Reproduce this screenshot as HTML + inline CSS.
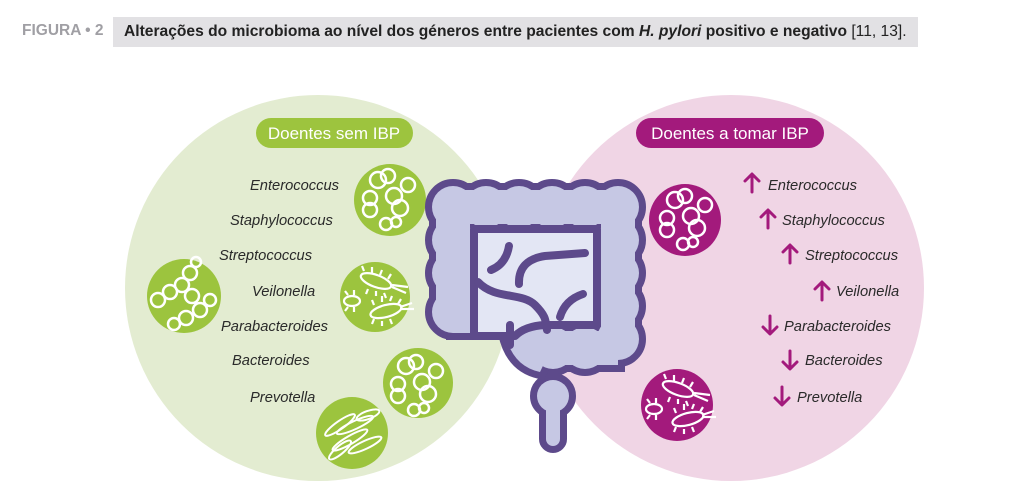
<!DOCTYPE html>
<html><head><meta charset="utf-8"><style>
body{margin:0;width:1032px;height:496px;background:#fff;overflow:hidden;position:relative;font-family:"Liberation Sans",sans-serif}
.fig{position:absolute;left:22px;top:22px;font-weight:bold;font-size:15.5px;color:#a09fa4;transform:scaleX(1);transform-origin:left;white-space:nowrap}
.cap{position:absolute;left:113px;top:17px;width:805px;height:30px;background:#e2e1e4}
.cap span.t{position:absolute;left:11px;top:6px;font-size:16px;font-weight:bold;color:#222;white-space:nowrap;transform:scaleX(.975);transform-origin:left}
svg{position:absolute;left:0;top:0}
</style></head><body>
<div class="fig">FIGURA • 2</div>
<div class="cap"><span class="t">Alterações do microbioma ao nível dos géneros entre pacientes com <i>H. pylori</i> positivo e negativo <span style="font-weight:normal">[11, 13].</span></span></div>
<svg width="1032" height="496" viewBox="0 0 1032 496">
<defs>
<g id="cocci" fill="none" stroke="#fff" stroke-width="2.5">
<circle cx="-12" cy="-20" r="8"/><circle cx="-2" cy="-24" r="7"/><circle cx="18" cy="-15" r="7"/><circle cx="4" cy="-4" r="8"/><circle cx="10" cy="8" r="8"/><circle cx="-20" cy="-2" r="7"/><circle cx="-20" cy="10" r="7"/><circle cx="-4" cy="24" r="6"/><circle cx="6" cy="22" r="5"/>
</g>
<g id="bac" fill="none" stroke="#fff" stroke-width="2.2">
<ellipse cx="-2" cy="-16" rx="16" ry="6" transform="rotate(20 -2 -16)"/>
<ellipse cx="8" cy="14" rx="16" ry="6" transform="rotate(-15 8 14)"/>
<ellipse cx="-26" cy="4" rx="8" ry="5"/>
<path d="M-14 -26 l-2 -5 M-6 -24 l0 -6 M2 -22 l2 -5 M10 -18 l3 -5 M-10 -8 l-2 5 M-2 -6 l0 5 M6 -4 l2 5 M14 -10 l14 6 M14 -12 l16 2 M-4 8 l-2 -5 M4 5 l0 -6 M12 4 l2 -5 M20 7 l3 -5 M-4 22 l-2 5 M4 24 l0 5 M12 22 l2 5 M22 10 l12 -4 M22 12 l14 0 M-30 -2 l-3 -4 M-24 -2 l0 -5 M-30 10 l-3 4 M-24 10 l0 5"/>
</g>
<g id="colon">
<circle cx="453" cy="207" r="21"/><circle cx="486" cy="207" r="21"/><circle cx="519" cy="207" r="21"/><circle cx="552" cy="207" r="21"/><circle cx="585" cy="207" r="21"/><circle cx="618" cy="207" r="21"/>
<circle cx="453" cy="240" r="21"/><circle cx="453" cy="273" r="21"/><circle cx="453" cy="312" r="21"/>
<circle cx="618" cy="240" r="21"/><circle cx="618" cy="273" r="21"/><circle cx="618" cy="306" r="21"/><circle cx="618" cy="339" r="21"/>
<circle cx="585" cy="348" r="21"/><circle cx="553" cy="348" r="21"/>
<circle cx="553" cy="396" r="16"/><rect x="546" y="396" width="14" height="50" rx="7"/>
<rect x="453" y="190" width="165" height="34"/><rect x="436" y="207" width="34" height="100"/><rect x="601" y="207" width="34" height="135"/><rect x="553" y="331" width="65" height="34"/>
<path d="M453 300 L453 333 L505 333 Q512 366 540 372 L560 330 L480 318 Z"/>
</g>
</defs>
<circle cx="318" cy="288" r="193" fill="#e3ecd1"/>
<circle cx="731" cy="288" r="193" fill="#f0d5e5"/>
<rect x="256" y="118" width="157" height="30" rx="15" fill="#9dc43e"/>
<text x="334" y="139" text-anchor="middle" font-size="17" fill="#fff">Doentes sem IBP</text>
<rect x="636" y="118" width="188" height="30" rx="15" fill="#a31a7c"/>
<text x="730" y="139" text-anchor="middle" font-size="17" fill="#fff">Doentes a tomar IBP</text>
<g font-style="italic" font-size="14.7" fill="#2a2a2a">
<text x="250" y="190">Enterococcus</text>
<text x="230" y="225">Staphylococcus</text>
<text x="219" y="260">Streptococcus</text>
<text x="252" y="296">Veilonella</text>
<text x="221" y="331">Parabacteroides</text>
<text x="232" y="365">Bacteroides</text>
<text x="250" y="402">Prevotella</text>
<text x="768" y="190">Enterococcus</text>
<text x="782" y="225">Staphylococcus</text>
<text x="805" y="260">Streptococcus</text>
<text x="836" y="296">Veilonella</text>
<text x="784" y="331">Parabacteroides</text>
<text x="805" y="365">Bacteroides</text>
<text x="797" y="402">Prevotella</text>
</g>
<g stroke="#a31a7c" stroke-width="3" fill="none" stroke-linecap="round" stroke-linejoin="round">
<path d="M752 192 v-17 M745 181 l7 -7 l7 7"/>
<path d="M768 228 v-17 M761 217 l7 -7 l7 7"/>
<path d="M790 263 v-17 M783 252 l7 -7 l7 7"/>
<path d="M822 300 v-17 M815 289 l7 -7 l7 7"/>
<path d="M770 316 v17 M763 327 l7 7 l7 -7"/>
<path d="M790 351 v17 M783 362 l7 7 l7 -7"/>
<path d="M782 387 v17 M775 398 l7 7 l7 -7"/>
</g>
<circle cx="390" cy="200" r="36" fill="#9cc43e"/><use href="#cocci" x="390" y="200"/>
<circle cx="184" cy="296" r="37" fill="#9cc43e"/>
<g fill="none" stroke="#fff" stroke-width="2.5"><circle cx="158" cy="300" r="7"/><circle cx="170" cy="292" r="7"/><circle cx="182" cy="285" r="7"/><circle cx="190" cy="273" r="7"/><circle cx="192" cy="296" r="7"/><circle cx="200" cy="310" r="7"/><circle cx="186" cy="318" r="7"/><circle cx="174" cy="324" r="6"/><circle cx="210" cy="300" r="6"/><circle cx="196" cy="262" r="5"/></g>
<circle cx="375" cy="297" r="35" fill="#9cc43e"/><use href="#bac" x="378" y="297"/>
<circle cx="418" cy="383" r="35" fill="#9cc43e"/><use href="#cocci" x="418" y="386"/>
<circle cx="352" cy="433" r="36" fill="#9cc43e"/>
<g fill="none" stroke="#fff" stroke-width="2"><ellipse cx="340" cy="425" rx="18" ry="4" transform="rotate(-35 340 425)"/><ellipse cx="355" cy="425" rx="20" ry="4" transform="rotate(-25 355 425)"/><ellipse cx="350" cy="440" rx="20" ry="4" transform="rotate(-30 350 440)"/><ellipse cx="365" cy="445" rx="18" ry="4" transform="rotate(-25 365 445)"/><ellipse cx="340" cy="450" rx="14" ry="4" transform="rotate(-40 340 450)"/><ellipse cx="368" cy="415" rx="12" ry="4" transform="rotate(-20 368 415)"/></g>
<circle cx="685" cy="220" r="36" fill="#a31a7c"/><use href="#cocci" x="687" y="220"/>
<circle cx="677" cy="405" r="36" fill="#a31a7c"/><use href="#bac" x="680" y="405"/>
<use href="#colon" fill="#5d4a8b" stroke="#5d4a8b" stroke-width="14"/>
<use href="#colon" fill="#c6c8e4"/>
<path d="M474 229 H597 V325 H545 Q525 326 515 336 H474 Z" fill="#e3e6f4" stroke="#5d4a8b" stroke-width="8" stroke-linejoin="round"/>
<g stroke="#5d4a8b" stroke-width="8" fill="none" stroke-linecap="round">
<path d="M478 282 C495 300 522 292 535 305 S545 322 547 330"/>
<path d="M509 246 Q506 264 491 270"/>
<path d="M519 284 Q518 260 545 256 L585 253"/>
<path d="M583 294 Q565 300 560 317"/>
<path d="M510 325 V345"/>
</g>
</svg>
</body></html>
